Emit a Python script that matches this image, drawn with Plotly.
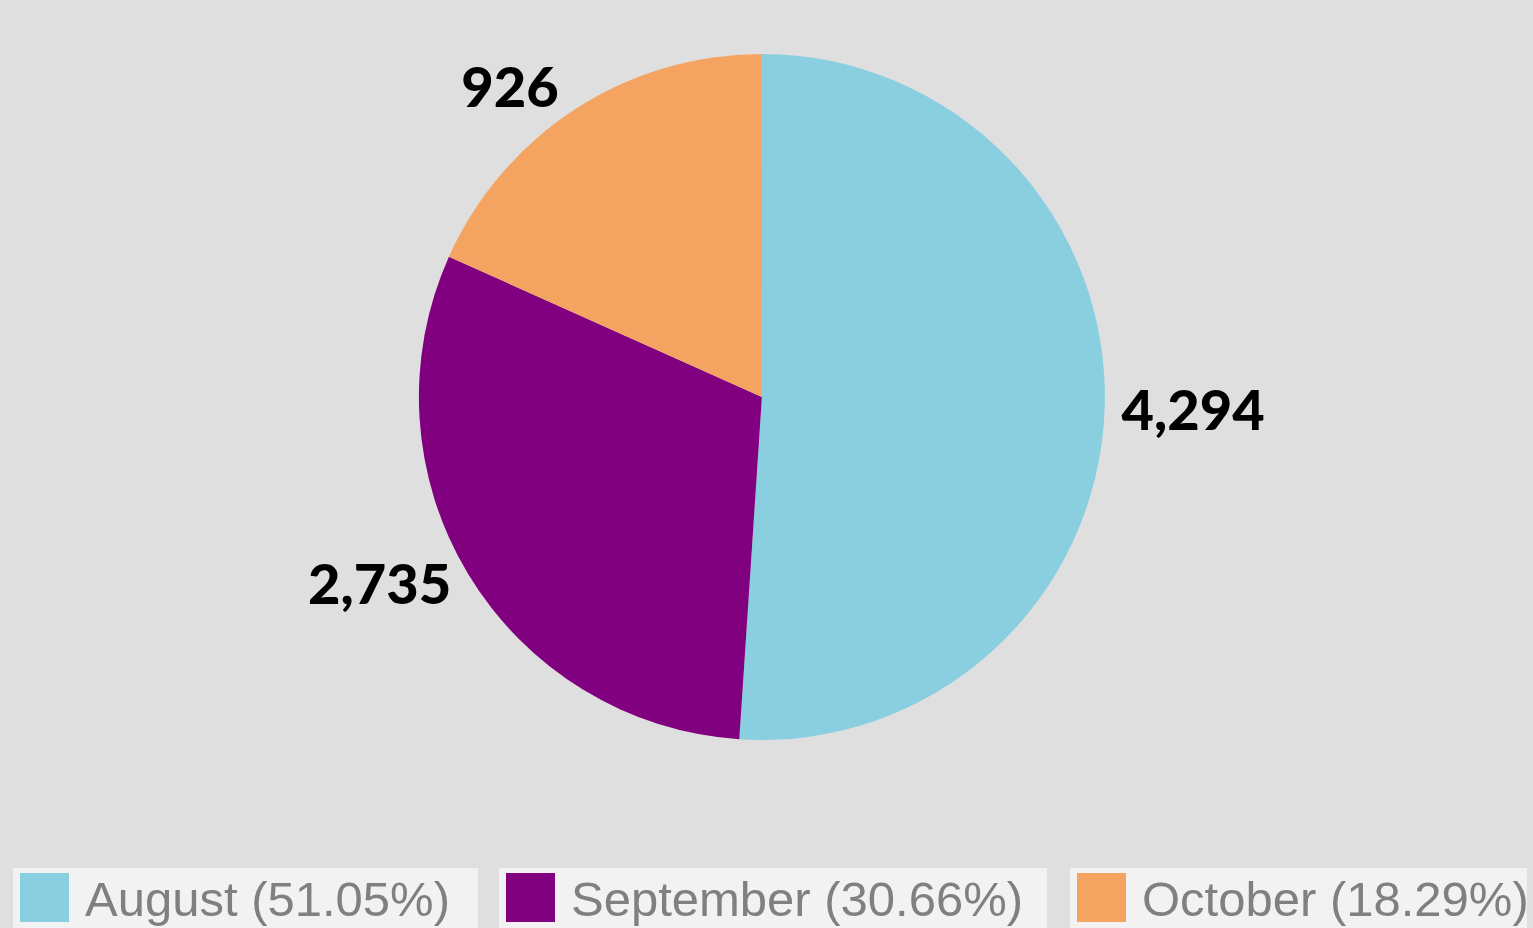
import plotly.graph_objects as go

# data
months = ["August", "September", "October"]
counts = [4294, 2735, 926]
shares = [51.05, 30.66, 18.29]
colors = ["#89cfe0", "#800080", "#f4a460"]

W, H = 1533, 928

fig = go.Figure()

fig.add_trace(go.Pie(
    labels=months,
    values=shares,
    text=[f"{c:,}" for c in counts],
    textinfo="text",
    textposition="outside",
    outsidetextfont=dict(family="Lato", size=56, color="black", weight=900),
    marker=dict(colors=colors, line=dict(width=0)),
    sort=False,
    direction="clockwise",
    rotation=0,
    automargin=False,
    showlegend=False,
    hoverinfo="label+text+percent",
    domain=dict(x=[0, 0.994], y=[1 - 740 / H, 1 - 54 / H]),
))

# legend drawn as boxed items along the bottom, like the original
box_x = [(13, 478), (499, 1047), (1070, 1527)]
for (x0, x1), m, s, col in zip(box_x, months, shares, colors):
    fig.add_shape(type="rect", xref="paper", yref="paper",
                  x0=x0 / W, x1=x1 / W, y0=0, y1=1 - 868 / H,
                  fillcolor="#f2f2f2", line=dict(width=0), layer="below")
    fig.add_shape(type="rect", xref="paper", yref="paper",
                  x0=(x0 + 7) / W, x1=(x0 + 56) / W,
                  y0=1 - 922 / H, y1=1 - 873 / H,
                  fillcolor=col, line=dict(width=0))
    fig.add_annotation(x=(x0 + 70) / W, y=1 - 899 / H, xref="paper", yref="paper",
                       text=f"{m} ({s:.2f}%)", showarrow=False,
                       xanchor="left", yanchor="middle",
                       font=dict(family="Liberation Sans, Arial", size=49, color="#808080"))

fig.update_layout(
    width=W, height=H,
    margin=dict(l=0, r=0, t=0, b=0, autoexpand=False),
    paper_bgcolor="#dfdfdf",
    plot_bgcolor="#dfdfdf",
)

fig.write_html("out.html", config={"displayModeBar": False},
               post_script="document.body.style.margin = '0';")
